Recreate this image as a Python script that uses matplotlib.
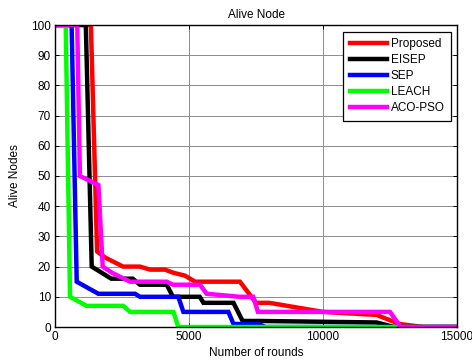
import matplotlib
matplotlib.use("Agg")
import matplotlib.pyplot as plt

plt.rcParams['font.family'] = ['Liberation Sans', 'DejaVu Sans']

# Data
proposed_x = [0, 1340, 1570, 1870, 2540, 3170, 3550, 4100, 4400, 4850, 5230, 6900, 7500, 8000, 10000, 12000, 12850, 13750, 15000]
proposed_y = [100, 100, 25, 23, 20, 20, 19, 19, 18, 17, 15, 15, 8, 8, 5, 4, 1, 0, 0]

eisep_x = [0, 1150, 1370, 2100, 2900, 3170, 4170, 4400, 5400, 5540, 6660, 7000, 7650, 12000, 12650, 15000]
eisep_y = [100, 100, 20, 16, 16, 14, 14, 10, 10, 8, 8, 2, 2, 1.5, 0, 0]

sep_x = [0, 620, 810, 1620, 2990, 3170, 4600, 4790, 6470, 6660, 7600, 7850, 15000]
sep_y = [100, 100, 15, 11, 11, 10, 10, 5, 5, 1, 1, 0, 0]

leach_x = [0, 400, 560, 1180, 2550, 2800, 4420, 4600, 15000]
leach_y = [100, 100, 10, 7, 7, 5, 5, 0, 0]

acopso_x = [0, 830, 930, 1620, 1780, 2120, 2800, 4170, 4400, 5410, 5660, 6900, 7400, 7570, 12500, 12900, 15000]
acopso_y = [100, 100, 50, 47, 20, 18, 15, 15, 14, 14, 11, 10, 10, 5, 5, 0, 0]

series = [
    ("Proposed", proposed_x, proposed_y, "#ff0000"),
    ("EISEP", eisep_x, eisep_y, "#000000"),
    ("SEP", sep_x, sep_y, "#0000ff"),
    ("LEACH", leach_x, leach_y, "#00ff00"),
    ("ACO-PSO", acopso_x, acopso_y, "#ff00ff"),
]

x_ticks = [0, 5000, 10000, 15000]
y_ticks = list(range(0, 101, 10))

fig = plt.figure(figsize=(4.72, 3.61), dpi=100)
ax = fig.add_axes([55/472, 34/361, 402/472, 302/361])

for name, xs, ys, c in series:
    ax.plot(xs, ys, color=c, linewidth=3.2, label=name, solid_joinstyle='miter')

ax.set_xlim(0, 15000)
ax.set_ylim(0, 100)
ax.set_xticks(x_ticks)
ax.set_yticks(y_ticks)
ax.set_xticklabels([str(t) for t in x_ticks])
ax.set_yticklabels([str(t) for t in y_ticks])
ax.grid(True, color='#8c8c8c', linewidth=0.7, linestyle='-')
ax.tick_params(direction='in', top=True, right=True, labelsize=8.5, length=3, width=0.7, pad=3)
for s in ax.spines.values():
    s.set_linewidth(1.0)
    s.set_color('black')

ax.set_title("Alive Node", fontsize=8.5, pad=5)
ax.set_xlabel("Number of rounds", fontsize=8.5, labelpad=3)
ax.set_ylabel("Alive Nodes", fontsize=8.5, labelpad=7)

leg = ax.legend(loc='upper right', fontsize=8.5, frameon=True, fancybox=False,
                edgecolor='black', framealpha=1, borderpad=0.55, handlelength=3.1,
                labelspacing=0.33, handletextpad=0.35, borderaxespad=0,
                bbox_to_anchor=(396/402, 1 - 7/302))
leg.get_frame().set_linewidth(0.9)

fig.savefig("out.png", dpi=100)
